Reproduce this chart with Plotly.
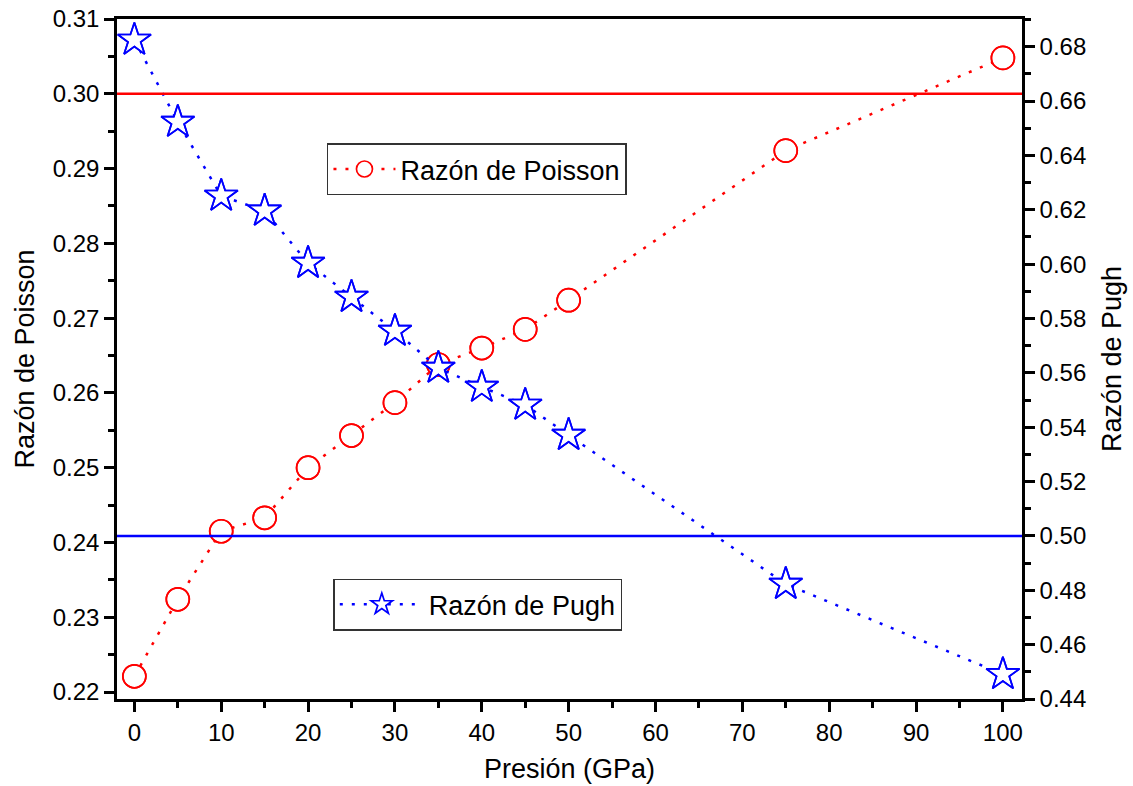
import plotly.graph_objects as go

# Pressure (GPa)
presion = [0, 5, 10, 15, 20, 25, 30, 35, 40, 45, 50, 75, 100]
# Poisson ratio (left axis)
poisson = [0.2221, 0.2324, 0.2415, 0.2433, 0.2500, 0.2543, 0.2587,
           0.2638, 0.2660, 0.2685, 0.2724, 0.2924, 0.3048]
# Pugh ratio G/B (right axis)
pugh = [0.6825, 0.6523, 0.6251, 0.6196, 0.6004, 0.5879, 0.5754,
        0.5618, 0.5548, 0.5482, 0.5371, 0.4823, 0.4491]

# Critical values (ductile / brittle limits)
poisson_critico = 0.30
pugh_critico = 0.50

FONT = "Liberation Sans, Arial, sans-serif"
RED = "#ff0000"
BLUE = "#0000ff"
DOTS = "3px,9px"

fig = go.Figure()

# Poisson: dotted line with white-filled circles (gaps the line at each point)
fig.add_trace(go.Scatter(
    x=presion, y=poisson, name="Razón de Poisson",
    mode="lines+markers",
    line=dict(color=RED, width=2.5, dash=DOTS),
    marker=dict(symbol="circle", size=23, color="white",
                line=dict(width=1.7, color=RED)),
    legend="legend", yaxis="y",
))

# Pugh: dotted line with white-filled stars
fig.add_trace(go.Scatter(
    x=presion, y=pugh, name="Razón de Pugh",
    mode="lines+markers",
    line=dict(color=BLUE, width=2.5, dash=DOTS),
    marker=dict(symbol="star", size=25, color="white",
                line=dict(width=1.7, color=BLUE)),
    legend="legend2", yaxis="y2",
))

# Outlines redrawn on top so overlapping marks stay visible
fig.add_trace(go.Scatter(
    x=presion, y=poisson, mode="markers", showlegend=False,
    hoverinfo="skip",
    marker=dict(symbol="circle-open", size=23, color=RED,
                line=dict(width=1.7, color=RED)),
    yaxis="y",
))
fig.add_trace(go.Scatter(
    x=presion, y=pugh, mode="markers", showlegend=False,
    hoverinfo="skip",
    marker=dict(symbol="star-open", size=25, color=BLUE,
                line=dict(width=1.7, color=BLUE)),
    yaxis="y2",
))

# Reference lines
fig.add_shape(type="line", xref="paper", x0=0, x1=1, yref="y",
              y0=poisson_critico, y1=poisson_critico,
              line=dict(color=RED, width=2.5))
fig.add_shape(type="line", xref="paper", x0=0, x1=1, yref="y2",
              y0=pugh_critico, y1=pugh_critico,
              line=dict(color=BLUE, width=2.5))

axis_common = dict(
    showgrid=False, zeroline=False, showline=True, linecolor="black",
    linewidth=2.5, ticks="outside", ticklen=10, tickwidth=2.5,
    tickcolor="black", automargin=False,
    tickfont=dict(family=FONT, size=24, color="black"),
)
minor_common = dict(ticks="outside", ticklen=6, tickwidth=2.5,
                    tickcolor="black")
title_font = dict(family=FONT, size=27, color="black")

fig.update_layout(
    width=1133, height=786,
    margin=dict(l=117, r=111, t=19, b=87),
    paper_bgcolor="white", plot_bgcolor="white",
    font=dict(family=FONT, size=24, color="black"),
    showlegend=True,
    xaxis=dict(
        **axis_common, range=[-2, 102.2], dtick=10, tick0=0, mirror=True,
        minor=dict(**minor_common, dtick=5),
        title=dict(text="Presión (GPa)", font=title_font, standoff=15),
    ),
    yaxis=dict(
        **axis_common, range=[0.21907, 0.31], dtick=0.01, tick0=0.22,
        tickformat=".2f",
        minor=dict(**minor_common, dtick=0.005),
        title=dict(text="Razón de Poisson", font=title_font, standoff=11),
    ),
    yaxis2=dict(
        **axis_common, overlaying="y", side="right",
        range=[0.44, 0.6902], dtick=0.02, tick0=0.44, tickformat=".2f",
        minor=dict(**minor_common, dtick=0.01),
        title=dict(text="Razón de Pugh", font=title_font, standoff=17),
    ),
    legend=dict(
        x=0.232, y=0.817, xanchor="left", yanchor="top",
        bgcolor="white", bordercolor="#333333", borderwidth=1.5,
        font=dict(family=FONT, size=27, color="black"),
        itemwidth=62,
    ),
    legend2=dict(
        x=0.239, y=0.177, xanchor="left", yanchor="top",
        bgcolor="white", bordercolor="#333333", borderwidth=1.5,
        font=dict(family=FONT, size=27, color="black"),
        itemwidth=84,
    ),
)

fig.write_html("out.html")
